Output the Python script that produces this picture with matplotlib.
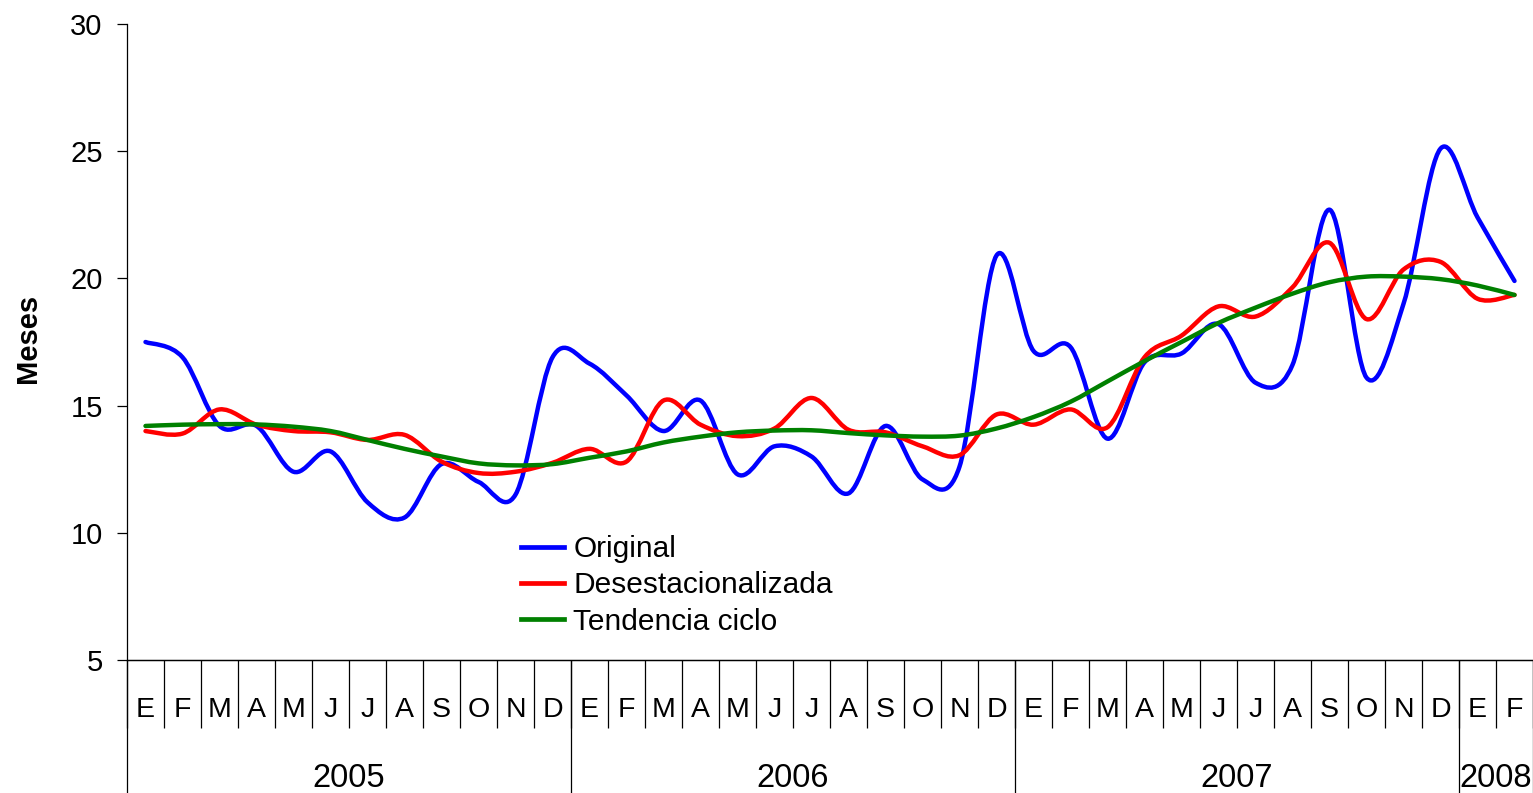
import numpy as np
import matplotlib
matplotlib.use("Agg")
import matplotlib.pyplot as plt
from matplotlib.path import Path
from matplotlib.patches import PathPatch
from matplotlib.lines import Line2D

plt.rcParams['font.family'] = ['Liberation Sans', 'DejaVu Sans']

months = ['E', 'F', 'M', 'A', 'M', 'J', 'J', 'A', 'S', 'O', 'N', 'D'] * 3 + ['E', 'F']
years = ['2005', '2006', '2007', '2008']
year_len = [12, 12, 12, 2]

original = [17.5, 16.9, 14.2, 14.2, 12.4, 13.2, 11.2, 10.6, 12.7, 12.0, 11.5, 16.9,
            16.65, 15.4, 14.0, 15.2, 12.3, 13.4, 13.0, 11.55, 14.2, 12.1, 12.6, 20.9,
            17.15, 17.3, 13.7, 16.7, 17.05, 18.2, 15.9, 16.6, 22.7, 16.1, 19.0, 25.1,
            22.4, 19.9]
desest = [14.0, 13.9, 14.85, 14.25, 14.0, 13.95, 13.65, 13.85, 12.8, 12.35, 12.4, 12.75,
          13.3, 12.8, 15.2, 14.25, 13.8, 14.1, 15.3, 14.05, 13.95, 13.4, 13.05, 14.65,
          14.25, 14.85, 14.15, 16.9, 17.75, 18.9, 18.5, 19.65, 21.4, 18.4, 20.35, 20.65,
          19.2, 19.35]
tendencia = [14.2, 14.25, 14.27, 14.26, 14.17, 14.0, 13.65, 13.3, 13.0, 12.73, 12.65, 12.7,
             12.95, 13.2, 13.55, 13.78, 13.95, 14.02, 14.03, 13.92, 13.83, 13.78, 13.82, 14.1,
             14.55, 15.15, 15.95, 16.75, 17.5, 18.25, 18.85, 19.4, 19.85, 20.07, 20.07, 19.97,
             19.72, 19.35]

series = [(original, '#0000FF', 'Original'),
          (desest, '#FF0000', 'Desestacionalizada'),
          (tendencia, '#008000', 'Tendencia ciclo')]


def smooth_path(x, y):
    # bezier through every point, control points from neighbours (Excel style smoothing)
    pts = np.column_stack([x, y]).astype(float)
    n = len(pts)
    verts = [pts[0]]
    codes = [Path.MOVETO]
    for i in range(n - 1):
        p0 = pts[max(i - 1, 0)]
        p1 = pts[i]
        p2 = pts[i + 1]
        p3 = pts[min(i + 2, n - 1)]
        verts += [p1 + (p2 - p0) / 6, p2 - (p3 - p1) / 6, p2]
        codes += [Path.CURVE4] * 3
    return Path(verts, codes)


fig = plt.figure(figsize=(15.33, 7.93), dpi=100)
ax = fig.add_axes([127 / 1533, 133 / 793, 1406 / 1533, 636 / 793])

x = np.arange(len(months))
handles = []
for vals, color, name in series:
    ax.add_patch(PathPatch(smooth_path(x, vals), facecolor='none', edgecolor=color,
                           lw=3.2, capstyle='round', joinstyle='round'))
    handles.append(Line2D([], [], color=color, lw=3.4, label=name))

ax.set_xlim(-0.5, len(months) - 0.5)
ax.set_ylim(5, 30)
ax.set_yticks(np.arange(5, 31, 5))
ax.tick_params(axis='y', direction='out', length=7.5, width=0.9, pad=10, labelsize=21)
ax.set_ylabel('Meses', fontsize=21, fontweight='bold')
ax.yaxis.set_label_coords(-0.0605, 0.505)

for side in ['top', 'right']:
    ax.spines[side].set_visible(False)
for side in ['left', 'bottom']:
    ax.spines[side].set_linewidth(0.9)

# month cells
ax.set_xticks(np.arange(-0.5, len(months), 1.0))
ax.set_xticklabels([])
ax.set_xticks(x, minor=True)
ax.set_xticklabels(months, minor=True)
ax.tick_params(axis='x', which='major', direction='out', length=49, width=0.9)
ax.tick_params(axis='x', which='minor', length=0, pad=26.5, labelsize=20.5)

# year row
bounds = np.concatenate([[0], np.cumsum(year_len)]) - 0.5
centers = (bounds[:-1] + bounds[1:]) / 2
sec = ax.secondary_xaxis('bottom')
sec.set_xticks(bounds)
sec.set_xticklabels([])
sec.set_xticks(centers, minor=True)
sec.set_xticklabels(years, minor=True)
sec.tick_params(axis='x', which='major', direction='out', length=100, width=0.9)
sec.tick_params(axis='x', which='minor', length=0, pad=74, labelsize=23.5)
sec.spines['bottom'].set_linewidth(0.9)

ax.legend(handles=handles, loc='upper left', bbox_to_anchor=(521 / 1533, 1 - 535 / 793),
          bbox_transform=fig.transFigure, frameon=False, fontsize=21.5,
          handlelength=1.45, handletextpad=0.3, labelspacing=0.28,
          borderpad=0, borderaxespad=0)

fig.savefig('out.png', dpi=100)
